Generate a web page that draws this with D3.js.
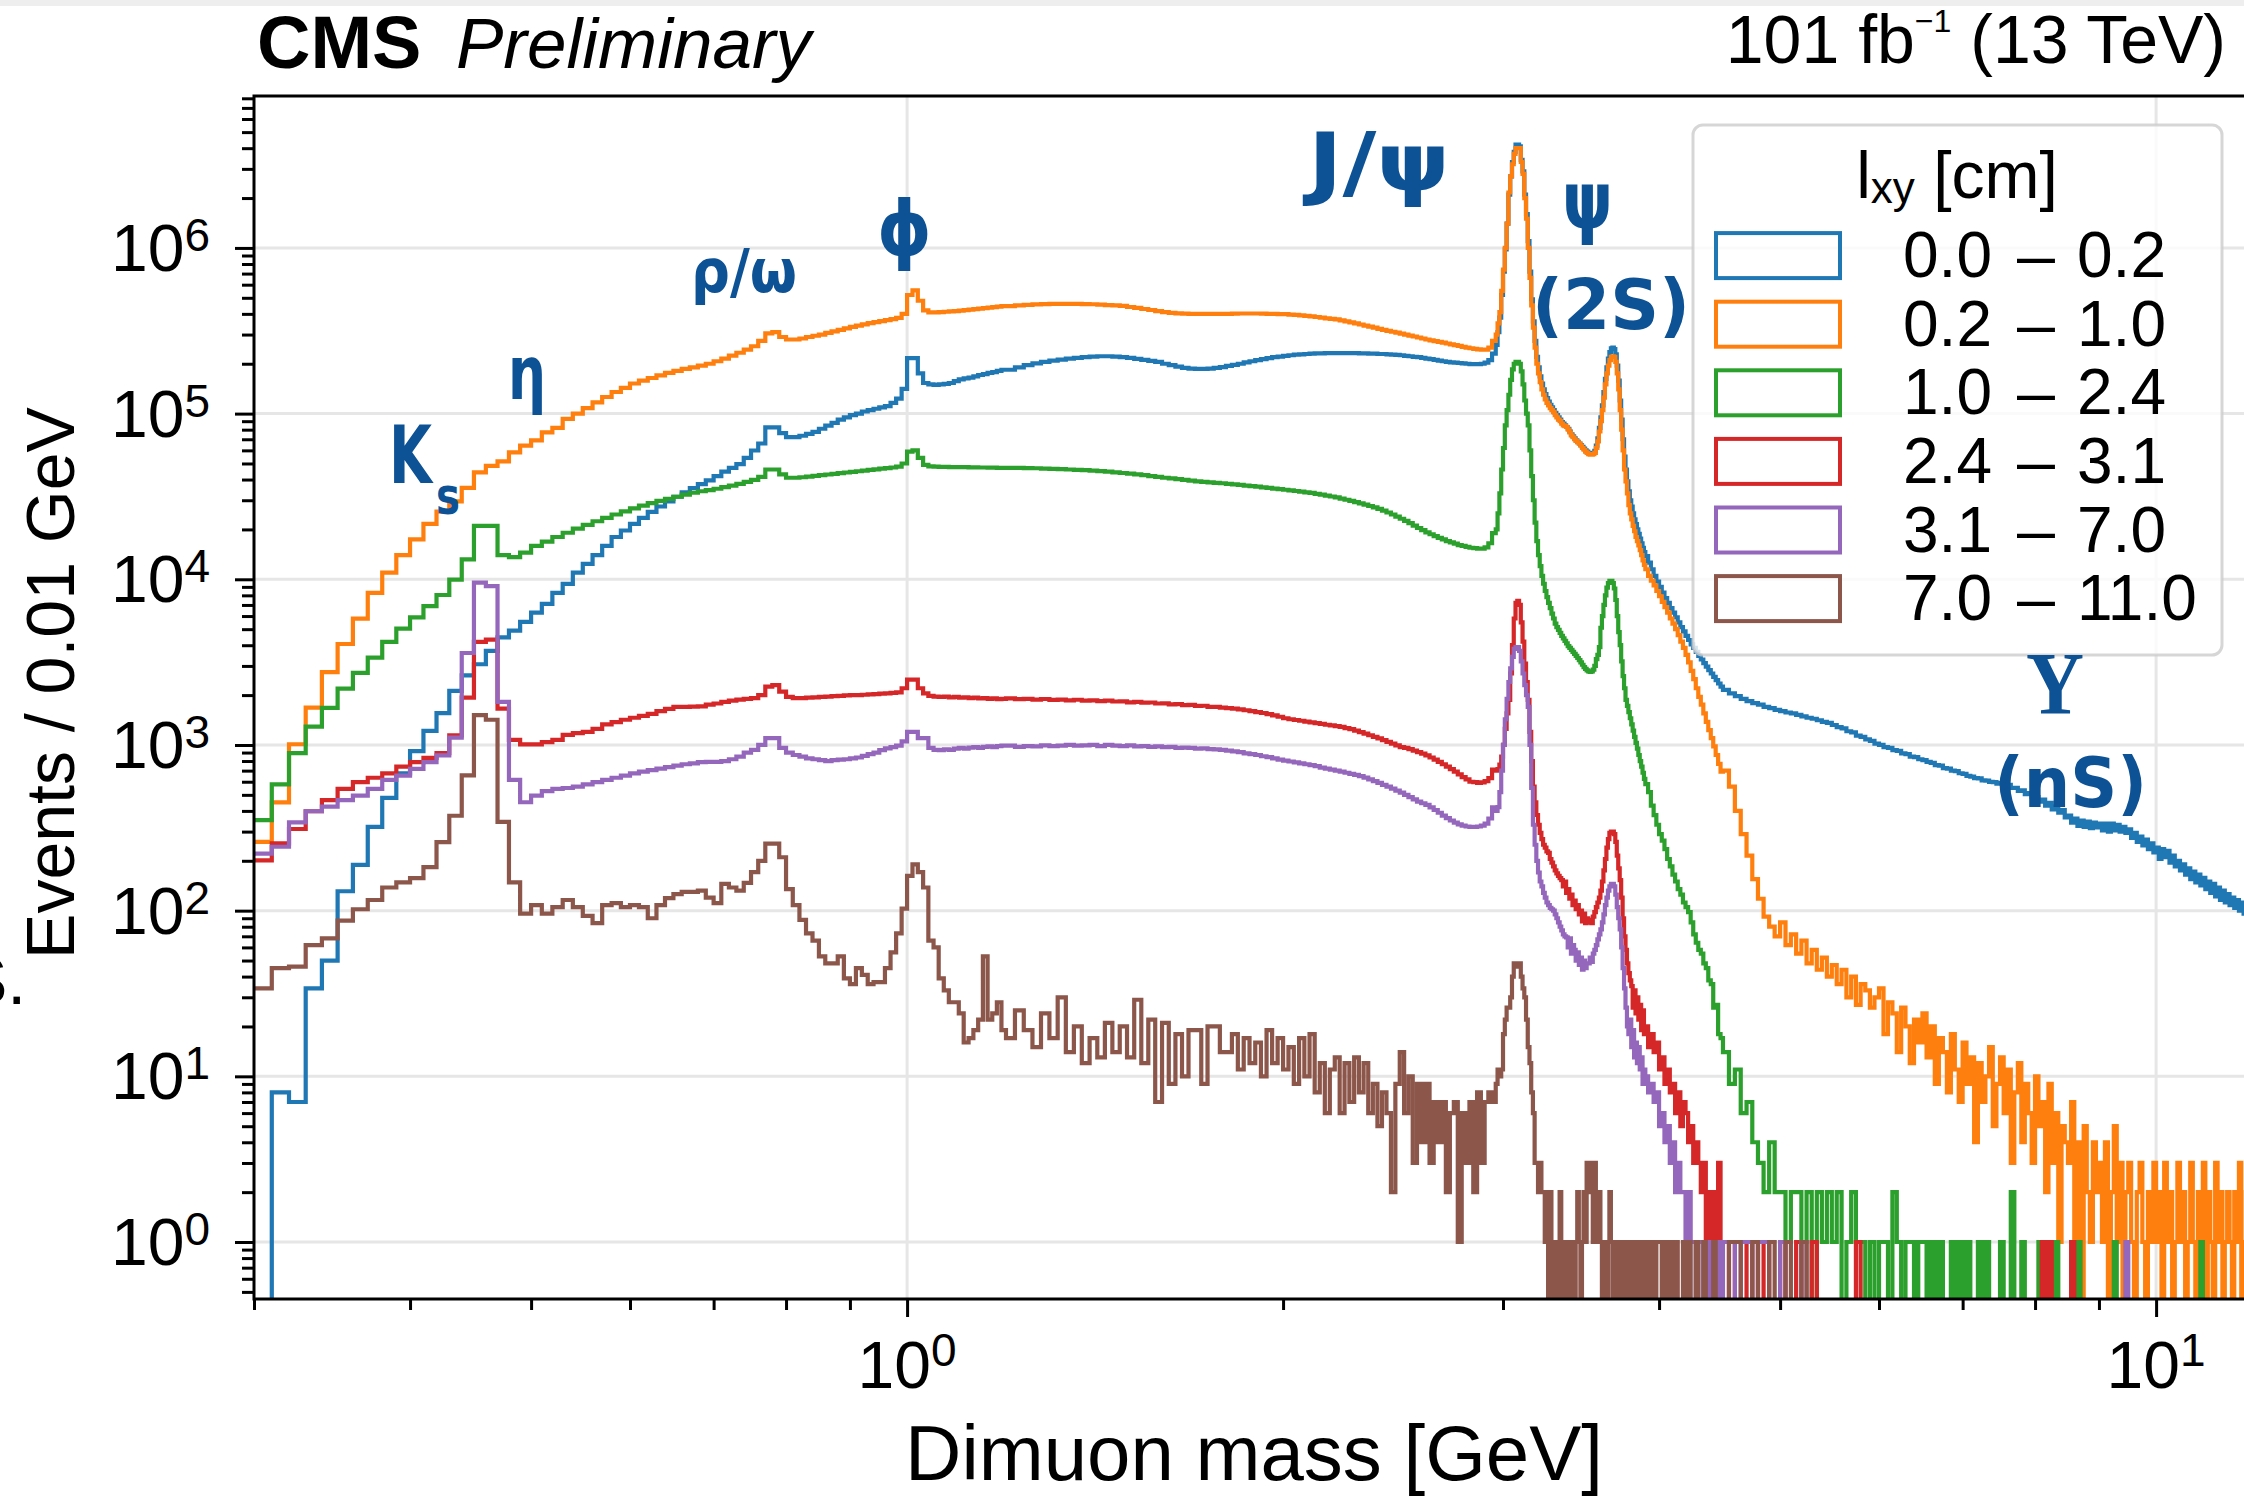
<!DOCTYPE html>
<html>
<head>
<meta charset="utf-8">
<title>CMS Preliminary - Dimuon mass spectrum</title>
<script src="https://cdn.jsdelivr.net/npm/d3@7/dist/d3.min.js"></script>
<style>
  html, body { margin: 0; padding: 0; background: #ffffff; }
  svg { display: block; }
</style>
</head>
<body>
<svg id="chart" width="2244" height="1496" xmlns="http://www.w3.org/2000/svg"></svg>
<script>
// ===================== DATA =====================
// Histogram binning (GeV): consecutive bins of equal width per segment
const binSegments = [
  { start: 0.30, step: 0.01 },
  { start: 1.20, step: 0.02 },
  { start: 2.96, step: 0.01 },
  { start: 3.90, step: 0.02 },
  { start: 4.50, step: 0.05 }
];
const massRange = [0.30, 12.0];
const countRange = [0.453, 8.26e6];
const xMajorTicks = [1, 10];
const xTickExponents = ["0", "1"];
const yMajorTicks = [1, 10, 100, 1000, 10000, 100000, 1000000];
const yTickExponents = ["0", "1", "2", "3", "4", "5", "6"];
const seriesRangeLow = ["0.0", "0.2", "1.0", "2.4", "3.1", "7.0"];
const seriesRangeHigh = ["0.2", "1.0", "2.4", "3.1", "7.0", "11.0"];
const seriesColors = ["#1f77b4", "#ff7f0e", "#2ca02c", "#d62728", "#9467bd", "#8c564b"];

// Events / 0.01 GeV, one array per binning segment
const lxy_00_02 = [
 [0, 8, 7, 34, 50, 131, 189, 320, 479, 674,
  919, 1215, 1557, 2120, 2630, 3070, 3700, 4460, 4900, 5540,
  6300, 7100, 8280, 9380, 10960, 12400, 14000, 15900, 18000, 19700,
  21600, 23500, 25500, 27500, 29500, 31500, 33500, 35500, 37500, 39500,
  42000, 44600, 47000, 49600, 54000, 59900, 66000, 82600, 82600, 76200,
  72100, 72100, 73500, 75500, 77500, 81000, 84700, 88000, 91900, 95000,
  98000, 100000, 103000, 105000, 107000, 109000, 111000, 116000, 123000, 141000,
  216000, 216000, 175000, 153000, 150000, 149000, 150000, 151000, 153000, 157000,
  161000, 163000, 165000, 168000, 171000, 173000, 176000, 178000, 181000, 184000],
 [184000, 190000, 196000, 201000, 205000, 209000, 212000, 215000, 217000, 219000,
  221000, 222000, 222000, 221000, 219000, 217000, 214000, 211000, 208000, 205000,
  200000, 196000, 192000, 189000, 187000, 186000, 186000, 187000, 189000, 191000,
  194000, 197000, 200000, 204000, 207000, 210000, 213000, 216000, 219000, 221000,
  223000, 225000, 227000, 228000, 229000, 230000, 231000, 231000, 232000, 232000,
  232000, 232000, 232000, 232000, 232000, 231000, 231000, 230000, 230000, 229000,
  229000, 228000, 227000, 226000, 225000, 223000, 222000, 220000, 219000, 217000,
  215000, 213000, 211000, 209000, 207000, 205000, 204000, 203000, 202000, 201000,
  200000, 199000, 199000, 199000, 200000, 203000, 210000, 230000],
 [260000, 310000, 380000, 520000, 720000, 980000, 1400000, 2100000, 2700000, 3300000,
  3800000, 4200000, 4200000, 4100000, 3400000, 2900000, 2100000, 1600000, 1100000, 720000,
  490000, 360000, 275000, 220000, 190000, 168000, 152000, 140000, 131000, 124000,
  118000, 113000, 109000, 105000, 101000, 98000, 95000, 92000, 89000, 87000,
  85000, 83000, 81000, 78000, 75000, 73000, 71000, 69000, 67500, 66000,
  64500, 63000, 61500, 60000, 59000, 58000, 57500, 57500, 58000, 59500,
  64000, 71000, 82000, 95000, 112000, 135000, 162000, 190000, 215000, 235000,
  248000, 250000, 245000, 228000, 195000, 158000, 120000, 92000, 70000, 55000,
  46000, 39000, 34000, 30000, 27500, 25000, 23000, 21500, 20000, 18800,
  17600, 16500, 15500, 14600],
 [13800, 12600, 11500, 10500, 9700, 9000, 8300, 7700, 7200, 6700,
  6300, 5900, 5500, 5150, 4850, 4550, 4300, 4050, 3850, 3650,
  3450, 3280, 3120, 2970, 2830, 2700, 2580, 2460, 2350, 2250],
 [2150, 2050, 1970, 1900, 1840, 1790, 1750, 1700, 1670, 1630,
  1600, 1570, 1550, 1520, 1490, 1460, 1440, 1410, 1380, 1360,
  1320, 1280, 1260, 1210, 1190, 1140, 1120, 1080, 1060, 1020,
  1000, 970, 960, 930, 920, 890, 880, 850, 845, 820,
  810, 790, 780, 755, 750, 725, 720, 700, 695, 675,
  670, 650, 645, 630, 628, 612, 610, 598, 596, 585,
  590, 570, 575, 550, 552, 528, 532, 505, 512, 485,
  485, 455, 468, 430, 448, 408, 425, 390, 405, 365,
  375, 340, 360, 325, 350, 320, 345, 315, 340, 318,
  335, 305, 335, 300, 335, 305, 330, 300, 320, 295,
  310, 275, 295, 260, 280, 248, 268, 235, 255, 225,
  240, 205, 235, 210, 230, 195, 215, 185, 200, 175,
  190, 165, 180, 155, 172, 148, 165, 142, 158, 135,
  150, 128, 145, 122, 138, 116, 132, 112, 126, 108,
  120, 104, 116, 100, 112, 96, 108, 92, 104, 90]
];

const lxy_02_10 = [
 [260, 450, 1010, 1680, 2750, 4070, 5790, 8280, 10960, 14000,
  17400, 21600, 25600, 29500, 35600, 44200, 48400, 51500, 58300, 64000,
  69000, 77100, 82000, 92900, 100000, 108000, 117000, 126000, 135000, 143000,
  152000, 158000, 164000, 170000, 176000, 181000, 186000, 190000, 195000, 200000,
  207000, 215000, 224000, 233000, 243000, 255000, 275000, 305000, 310000, 290000,
  280000, 280000, 284000, 290000, 295000, 300000, 307000, 314000, 320000, 327000,
  334000, 340000, 346000, 352000, 357000, 362000, 367000, 372000, 378000, 400000,
  520000, 555000, 480000, 420000, 408000, 408000, 410000, 412000, 414000, 416000,
  418000, 421000, 424000, 427000, 430000, 433000, 436000, 439000, 442000, 445000],
 [446000, 450000, 453000, 456000, 458000, 460000, 460000, 460000, 459000, 458000,
  457000, 455000, 452000, 450000, 447000, 440000, 435000, 428000, 422000, 416000,
  410000, 406000, 403000, 401000, 400000, 400000, 400000, 400000, 400000, 400000,
  400000, 401000, 402000, 402000, 402000, 402000, 401000, 400000, 400000, 399000,
  398000, 396000, 394000, 392000, 389000, 386000, 383000, 380000, 376000, 373000,
  370000, 365000, 360000, 355000, 350000, 345000, 340000, 335000, 330000, 325000,
  320000, 316000, 312000, 308000, 304000, 300000, 296000, 292000, 288000, 284000,
  280000, 277000, 274000, 271000, 268000, 265000, 262000, 259000, 256000, 253000,
  250000, 248000, 246000, 244000, 243000, 243000, 250000, 275000],
 [300000, 350000, 410000, 550000, 740000, 1000000, 1400000, 2160000, 2700000, 3200000,
  3700000, 4000000, 4000000, 4000000, 3300000, 2800000, 2000000, 1500000, 1000000, 660000,
  450000, 330000, 250000, 200000, 175000, 155000, 140000, 130000, 122000, 116000,
  112000, 108000, 105000, 102000, 98000, 95000, 92000, 90000, 87000, 85000,
  84000, 83000, 80000, 77000, 74000, 72000, 70000, 68500, 67000, 66000,
  64000, 62000, 60500, 59000, 58000, 57000, 56500, 56500, 57000, 58000,
  62000, 68000, 78000, 90000, 105000, 125000, 150000, 175000, 195000, 210000,
  220000, 222000, 220000, 205000, 175000, 140000, 105000, 80000, 60000, 46000,
  39000, 33000, 28000, 25000, 23000, 21000, 19500, 18000, 17000, 16000,
  15000, 14000, 13000, 12200],
 [11500, 10500, 9800, 9200, 8500, 7900, 7300, 6800, 6300, 5800,
  5400, 5000, 4600, 4200, 3850, 3500, 3150, 2800, 2500, 2200,
  1950, 1750, 1550, 1380, 1230, 1100, 980, 870, 770, 690],
 [700, 560, 400, 290, 215, 155, 118, 92, 80, 70,
  85, 62, 72, 55, 66, 48, 58, 44, 52, 40,
  47, 36, 44, 30, 40, 27, 36, 33, 26, 30,
  34, 18, 28, 24, 14, 26, 20, 12, 22, 16,
  24, 13, 20, 9, 17, 14, 8, 18, 11, 7,
  16, 9, 13, 4, 12, 7, 10, 15, 5, 9,
  13, 6, 11, 3, 8, 12, 4, 9, 6, 3,
  10, 5, 7, 2, 9, 3, 6, 1, 5, 4,
  3, 7, 1, 4, 0, 5, 2, 1, 4, 2,
  3, 1, 4, 0, 2, 5, 1, 3, 0, 2,
  3, 1, 0, 2, 3, 1, 0, 2, 1, 3,
  1, 2, 0, 3, 1, 2, 0, 1, 3, 1,
  2, 0, 1, 3, 1, 0, 2, 1, 3, 0,
  2, 1, 0, 3, 1, 2, 0, 1, 2, 1,
  0, 2, 1, 3, 0, 1, 2, 1, 0, 2]
];

const lxy_10_24 = [
 [352, 578, 892, 1290, 1675, 2190, 2720, 3370, 4190, 5040,
  5890, 6880, 8040, 9960, 13200, 21000, 21000, 14000, 13600, 14500,
  15900, 16900, 18000, 19100, 20200, 21300, 22400, 23500, 24600, 25700,
  26800, 27800, 28800, 29700, 30600, 31500, 32400, 33300, 34000, 34500,
  35200, 36000, 36800, 37700, 38700, 39800, 41500, 46000, 46000, 43000,
  41000, 41000, 41300, 41700, 42100, 42500, 42900, 43300, 43700, 44100,
  44500, 44900, 45300, 45700, 46100, 46500, 46900, 47300, 47800, 50000,
  59000, 60000, 54000, 49000, 48000, 47800, 47700, 47700, 47600, 47600,
  47500, 47500, 47400, 47400, 47300, 47300, 47200, 47200, 47100, 47100],
 [47100, 47000, 46900, 46800, 46600, 46400, 46200, 46000, 45800, 45600,
  45300, 45000, 44600, 44200, 43800, 43400, 43000, 42500, 42000, 41500,
  41000, 40600, 40200, 39800, 39400, 39000, 38700, 38500, 38200, 38000,
  37700, 37400, 37100, 36800, 36500, 36200, 35900, 35600, 35300, 35000,
  34700, 34400, 34100, 33800, 33500, 33200, 32800, 32400, 32000, 31600,
  31200, 30700, 30200, 29700, 29200, 28700, 28200, 27700, 27200, 26600,
  26000, 25300, 24600, 23900, 23200, 22500, 21800, 21100, 20400, 19800,
  19200, 18700, 18200, 17800, 17400, 17000, 16700, 16400, 16100, 15900,
  15700, 15500, 15400, 15300, 15300, 15600, 16500, 19000],
 [20000, 25000, 33000, 46000, 62000, 85000, 105000, 130000, 160000, 185000,
  200000, 205000, 205000, 200000, 180000, 150000, 120000, 100000, 85000, 60000,
  42000, 30000, 22000, 17000, 14000, 12000, 10500, 9400, 8500, 7800,
  7200, 6700, 6200, 5800, 5400, 5150, 4950, 4750, 4550, 4400,
  4250, 4100, 3950, 3850, 3750, 3650, 3550, 3450, 3350, 3250,
  3150, 3050, 2950, 2880, 2820, 2780, 2760, 2780, 2850, 3000,
  3300, 3500, 3900, 5100, 6000, 7000, 8000, 8900, 9500, 9800,
  9800, 9500, 8800, 7500, 6000, 4800, 4000, 3200, 2600, 2200,
  1870, 1720, 1580, 1450, 1330, 1220, 1120, 1030, 950, 870,
  800, 740, 680, 625],
 [580, 520, 430, 377, 330, 290, 265, 235, 205, 185,
  165, 150, 135, 125, 112, 105, 98, 85, 72, 64,
  58, 55, 48, 45, 38, 36, 26, 27, 18, 17],
 [14, 9, 11, 6, 7, 4, 3, 2, 4, 2,
  2, 1, 2, 2, 1, 2, 0, 2, 1, 2,
  1, 2, 0, 1, 2, 1, 1, 0, 1, 0,
  1, 1, 0, 2, 1, 0, 1, 1, 0, 1,
  1, 0, 1, 0, 1, 0, 0, 1, 0, 1,
  0, 1, 0, 0, 1, 0, 1, 0, 0, 0,
  1, 0, 0, 2, 0, 0, 1, 0, 0, 0,
  0, 1, 0, 0, 0, 0, 1, 0, 0, 0,
  0, 0, 0, 1, 0, 0, 0, 0, 0, 0,
  0, 0, 0, 0, 0, 1, 0, 0, 0, 0,
  0, 0, 0, 0, 0, 0, 0, 0, 0, 0,
  0, 0, 0, 0, 0, 0, 0, 0, 0, 0,
  0, 0, 0, 0, 0, 0, 0, 1, 0, 0,
  0, 0, 0, 0, 0, 0, 0, 0, 0, 0,
  0, 0, 0, 0, 0, 0, 0, 0, 0, 0]
];

const lxy_24_31 = [
 [201, 255, 311, 398, 465, 543, 596, 634, 674, 740,
  787, 837, 892, 1142, 1930, 4190, 4320, 1656, 1073, 1009,
  1009, 1040, 1073, 1150, 1178, 1200, 1250, 1330, 1375, 1420,
  1460, 1500, 1540, 1600, 1650, 1700, 1700, 1706, 1710, 1750,
  1780, 1820, 1850, 1880, 1900, 1920, 2000, 2250, 2300, 2100,
  1950, 1920, 1920, 1930, 1940, 1950, 1960, 1970, 1980, 1990,
  2000, 2000, 2010, 2020, 2030, 2040, 2050, 2060, 2080, 2200,
  2480, 2480, 2200, 2050, 1980, 1960, 1950, 1960, 1940, 1950,
  1930, 1940, 1920, 1930, 1910, 1920, 1900, 1910, 1890, 1900],
 [1910, 1890, 1900, 1880, 1895, 1870, 1880, 1860, 1875, 1850,
  1860, 1840, 1850, 1830, 1835, 1810, 1820, 1800, 1805, 1780,
  1785, 1760, 1765, 1740, 1745, 1720, 1725, 1700, 1700, 1680,
  1670, 1655, 1640, 1620, 1600, 1580, 1560, 1535, 1510, 1480,
  1450, 1430, 1415, 1400, 1385, 1370, 1355, 1340, 1325, 1312,
  1300, 1285, 1265, 1245, 1220, 1195, 1170, 1145, 1120, 1095,
  1070, 1045, 1020, 995, 970, 960, 945, 925, 905, 887,
  865, 840, 815, 790, 765, 740, 715, 690, 665, 640,
  620, 600, 596, 590, 595, 605, 630, 710],
 [700, 715, 760, 850, 1000, 1250, 1550, 1870, 2700, 4000,
  5800, 7200, 7400, 7000, 5500, 4200, 3100, 2400, 1870, 1200,
  800, 560, 450, 378, 330, 295, 270, 250, 240, 228,
  223, 205, 195, 185, 175, 168, 162, 157, 153, 140,
  150, 128, 135, 118, 125, 108, 115, 102, 108, 95,
  100, 86, 96, 84, 90, 85, 88, 84, 92, 98,
  105, 112, 120, 132, 150, 175, 205, 240, 270, 295,
  300, 300, 290, 260, 215, 180, 153, 120, 90, 70,
  58, 48, 42, 38, 35, 26, 33, 24, 30, 22,
  27, 19, 25, 18],
 [20, 15, 18, 14, 16, 11, 13, 9, 11, 8,
  9, 6, 8, 5, 7, 6, 4, 5, 3, 4,
  3, 2, 3, 1, 2, 1, 2, 1, 3, 1],
 [1, 0, 1, 1, 0, 1, 0, 1, 0, 0,
  1, 0, 0, 1, 0, 0, 1, 0, 0, 0,
  0, 0, 0, 0, 0, 1, 0, 0, 0, 0,
  0, 0, 0, 0, 0, 0, 0, 0, 0, 0,
  0, 0, 0, 0, 0, 0, 0, 0, 0, 0,
  0, 0, 0, 0, 0, 0, 0, 0, 0, 0,
  0, 0, 0, 0, 0, 0, 0, 0, 0, 0,
  0, 0, 1, 0, 1, 0, 0, 0, 0, 0,
  0, 1, 0, 0, 0, 0, 0, 0, 0, 0,
  0, 0, 0, 0, 0, 0, 0, 0, 0, 0,
  0, 0, 0, 0, 0, 0, 0, 0, 0, 0,
  0, 0, 0, 0, 0, 0, 0, 0, 0, 0,
  0, 0, 0, 0, 0, 0, 0, 0, 0, 0,
  0, 0, 0, 0, 0, 0, 0, 0, 0, 0,
  0, 0, 0, 0, 0, 0, 0, 0, 0, 0]
];

const lxy_31_70 = [
 [221, 243, 341, 398, 424, 465, 494, 543, 615, 653,
  718, 787, 865, 1107, 3590, 9550, 9100, 1820, 615, 451,
  494, 526, 543, 550, 560, 578, 596, 615, 634, 653,
  674, 690, 705, 720, 735, 750, 765, 775, 787, 790,
  790, 800, 820, 850, 900, 935, 1000, 1100, 1100, 960,
  900, 870, 850, 830, 820, 810, 800, 810, 815, 820,
  830, 840, 860, 880, 900, 930, 955, 970, 990, 1050,
  1200, 1200, 1100, 1100, 960, 935, 930, 940, 935, 950,
  960, 950, 965, 970, 960, 975, 980, 970, 985, 990],
 [990, 975, 985, 980, 995, 985, 990, 1000, 990, 995,
  1000, 985, 1000, 990, 985, 995, 980, 985, 975, 980,
  970, 975, 960, 965, 960, 950, 955, 945, 940, 935,
  925, 915, 905, 890, 880, 870, 855, 845, 830, 815,
  805, 795, 785, 775, 765, 755, 745, 730, 720, 710,
  700, 690, 680, 670, 660, 648, 635, 620, 605, 590,
  575, 560, 545, 530, 515, 500, 485, 470, 455, 445,
  435, 420, 405, 390, 375, 362, 350, 340, 332, 326,
  322, 320, 320, 322, 326, 335, 360, 420],
 [400, 422, 520, 700, 1000, 1430, 1900, 2400, 2900, 3400,
  3800, 3900, 3900, 3700, 3200, 2700, 2300, 2000, 1700, 1000,
  550, 330, 250, 200, 170, 150, 140, 128, 120, 112,
  108, 104, 102, 100, 95, 90, 85, 80, 76, 72,
  70, 69, 60, 68, 55, 62, 58, 50, 56, 47,
  52, 44, 50, 45, 48, 48, 52, 49, 55, 58,
  62, 67, 72, 77, 85, 95, 108, 120, 132, 140,
  145, 145, 140, 125, 105, 90, 77, 60, 45, 34,
  26, 20, 18, 22, 15, 19, 13, 16, 12, 15,
  11, 13, 9, 11],
 [10, 8, 9, 7, 8, 5, 6, 4, 5, 3,
  4, 2, 3, 2, 2, 1, 2, 1, 1, 0,
  1, 1, 0, 1, 0, 1, 1, 0, 1, 0],
 [1, 1, 0, 1, 1, 0, 1, 1, 0, 0,
  1, 0, 0, 0, 1, 0, 0, 0, 0, 0,
  0, 0, 0, 0, 0, 0, 0, 0, 0, 0,
  0, 0, 0, 0, 0, 0, 0, 0, 0, 0,
  0, 0, 0, 0, 0, 0, 0, 0, 0, 0,
  0, 0, 0, 0, 0, 0, 0, 0, 0, 0,
  0, 0, 0, 0, 0, 0, 0, 0, 0, 0,
  0, 0, 0, 0, 0, 0, 0, 0, 0, 0,
  0, 0, 0, 0, 0, 0, 0, 0, 0, 0,
  0, 0, 0, 0, 0, 0, 0, 0, 0, 1,
  0, 0, 0, 0, 0, 0, 0, 0, 0, 0,
  0, 0, 0, 0, 0, 0, 0, 0, 0, 0,
  0, 0, 0, 0, 0, 0, 0, 0, 0, 0,
  0, 0, 0, 0, 0, 0, 0, 0, 0, 0,
  0, 0, 0, 0, 0, 0, 0, 0, 0, 0]
];

const lxy_70_110 = [
 [34, 45, 46, 62, 68, 87, 102, 116, 138, 148,
  157, 183, 259, 374, 655, 1515, 1420, 343, 148, 96,
  108, 96, 105, 116, 105, 93, 84, 108, 111, 105,
  108, 105, 90, 108, 119, 126, 130, 130, 132, 120,
  111, 145, 138, 132, 147, 171, 200, 254, 254, 210,
  135, 108, 88, 73, 66, 53, 48, 48, 53, 39,
  36, 45, 41, 36, 37, 37, 45, 56, 73, 103,
  162, 190, 171, 138, 66, 60, 39, 33, 28, 28,
  24, 16, 17, 19, 22, 53, 22, 24, 28, 19],
 [17, 25, 19, 15, 24, 17, 30, 14, 20, 12,
  17, 13, 21, 14, 20, 13, 29, 12, 22, 7,
  21, 9, 18, 10, 19, 19, 9, 20, 20, 14,
  14, 18, 11, 17, 12, 16, 10, 19, 12, 17,
  11, 15, 9, 17, 10, 18, 8, 12, 6, 11,
  13, 6, 12, 7, 13, 8, 12, 6, 9, 5,
  8, 6, 2, 9, 14, 6, 10, 3, 9, 4,
  9, 3, 7, 4, 7, 2, 6, 7, 1, 6,
  3, 7, 2, 8, 3, 7, 8, 7],
 [9, 11, 10, 11, 18, 22, 26, 26, 30, 40,
  48, 48, 46, 48, 40, 34, 30, 22, 15, 12,
  8, 6, 3, 3, 2, 3, 2, 2, 1, 2,
  0, 2, 1, 0, 1, 1, 0, 2, 1, 0,
  1, 0, 1, 1, 0, 1, 0, 1, 2, 1,
  0, 1, 2, 1, 3, 2, 3, 2, 1, 3,
  2, 1, 2, 1, 0, 1, 1, 0, 1, 2,
  1, 0, 1, 1, 0, 1, 0, 1, 0, 1,
  1, 0, 1, 0, 0, 1, 0, 1, 0, 0,
  1, 0, 0, 1],
 [1, 0, 1, 0, 1, 1, 0, 1, 0, 1,
  0, 1, 0, 0, 1, 0, 1, 0, 0, 1,
  0, 0, 1, 0, 0, 0, 1, 0, 0, 0],
 [0, 1, 1, 0, 0, 1, 0, 0, 1, 0,
  0, 1, 0, 0, 1, 0, 0, 0, 0, 0,
  0, 0, 0, 0, 0, 0, 0, 0, 0, 0,
  0, 0, 0, 0, 0, 0, 0, 0, 0, 0,
  0, 0, 0, 0, 0, 0, 0, 0, 0, 0,
  0, 0, 0, 0, 0, 0, 0, 0, 0, 0,
  0, 0, 0, 0, 0, 0, 0, 0, 0, 0,
  0, 0, 0, 0, 0, 0, 0, 0, 0, 0,
  0, 0, 0, 0, 0, 0, 0, 0, 0, 0,
  0, 0, 0, 0, 0, 0, 0, 0, 0, 0,
  0, 0, 0, 0, 0, 0, 0, 0, 0, 0,
  0, 0, 0, 0, 0, 0, 0, 0, 0, 0,
  0, 0, 0, 0, 0, 0, 0, 0, 0, 0,
  0, 0, 0, 0, 0, 0, 0, 0, 0, 0,
  0, 0, 0, 0, 0, 0, 0, 0, 0, 0]
];

const seriesData = [lxy_00_02, lxy_02_10, lxy_10_24, lxy_24_31, lxy_31_70, lxy_70_110];

// ===================== RENDER =====================
const svg = d3.select("#chart");
const FONT = "'Liberation Sans', Arial, Helvetica, sans-serif";
const ANN_FONT = "'DejaVu Sans', 'Noto Sans', sans-serif";
const ANN_COLOR = "#0e5296";

const plot = { left: 254, right: 2255, top: 96, bottom: 1299 };

const x = d3.scaleLog().domain(massRange).range([plot.left, plot.right]);
const y = d3.scaleLog().domain(countRange).range([plot.bottom, plot.top]);

svg.append("rect").attr("x", 0).attr("y", 0).attr("width", 2244).attr("height", 1496).attr("fill", "#ffffff");
svg.append("rect").attr("x", 0).attr("y", 0).attr("width", 2244).attr("height", 6).attr("fill", "#eeeeee");

// grid
const grid = svg.append("g");
yMajorTicks.forEach(v => {
  grid.append("line").attr("x1", plot.left).attr("x2", plot.right)
    .attr("y1", y(v)).attr("y2", y(v))
    .attr("stroke", "#e6e6e6").attr("stroke-width", 3);
});
xMajorTicks.forEach(v => {
  grid.append("line").attr("y1", plot.top).attr("y2", plot.bottom)
    .attr("x1", x(v)).attr("x2", x(v))
    .attr("stroke", "#e6e6e6").attr("stroke-width", 3);
});

// clip
svg.append("defs").append("clipPath").attr("id", "plotclip")
  .append("rect").attr("x", plot.left).attr("y", plot.top)
  .attr("width", plot.right - plot.left).attr("height", plot.bottom - plot.top);

function buildPoints(segArrays) {
  const pts = [];
  segArrays.forEach((vals, k) => {
    const seg = binSegments[k];
    const limit = k < binSegments.length - 1 ? binSegments[k + 1].start - 1e-9 : Infinity;
    vals.forEach((v, j) => {
      const m = +(seg.start + j * seg.step).toFixed(5);
      if (m < limit) pts.push([m, v]);
    });
  });
  const lastSeg = binSegments[binSegments.length - 1];
  const lastVals = segArrays[segArrays.length - 1];
  pts.push([+(lastSeg.start + lastVals.length * lastSeg.step).toFixed(5), lastVals[lastVals.length - 1]]);
  return pts;
}
const yPos = v => (v > 0 ? y(v) : plot.bottom + 40);
const line = d3.line().x(d => x(d[0])).y(d => yPos(d[1])).curve(d3.curveStepAfter);

const gSeries = svg.append("g").attr("clip-path", "url(#plotclip)");
seriesData.forEach((s, i) => {
  gSeries.append("path")
    .attr("d", line(buildPoints(s)))
    .attr("fill", "none")
    .attr("stroke", seriesColors[i])
    .attr("stroke-width", 4.2)
    .attr("stroke-linejoin", "miter");
});

// axes (ticks)
const yMinor = [];
for (let e = -1; e <= 6; e++) for (let k = 2; k <= 9; k++) {
  const v = k * Math.pow(10, e);
  if (v >= countRange[0] && v <= countRange[1]) yMinor.push(v);
}
const xMinor = [];
for (let e = -1; e <= 1; e++) for (let k = 2; k <= 9; k++) {
  const v = k * Math.pow(10, e);
  if (v >= massRange[0] - 1e-9 && v <= massRange[1]) xMinor.push(v);
}
function styleAxis(g) {
  g.select(".domain").remove();
  g.selectAll(".tick line").attr("stroke", "#000").attr("stroke-width", 3);
}
svg.append("g").attr("transform", `translate(${plot.left},0)`)
  .call(d3.axisLeft(y).tickValues(yMajorTicks).tickSize(19).tickSizeOuter(0).tickFormat(() => ""))
  .call(styleAxis);
svg.append("g").attr("transform", `translate(${plot.left},0)`)
  .call(d3.axisLeft(y).tickValues(yMinor).tickSize(12).tickSizeOuter(0).tickFormat(() => ""))
  .call(styleAxis);
svg.append("g").attr("transform", `translate(0,${plot.bottom})`)
  .call(d3.axisBottom(x).tickValues(xMajorTicks).tickSize(18).tickSizeOuter(0).tickFormat(() => ""))
  .call(styleAxis);
svg.append("g").attr("transform", `translate(0,${plot.bottom})`)
  .call(d3.axisBottom(x).tickValues(xMinor).tickSize(11).tickSizeOuter(0).tickFormat(() => ""))
  .call(styleAxis);

// frame
svg.append("rect").attr("x", plot.left).attr("y", plot.top)
  .attr("width", plot.right - plot.left).attr("height", plot.bottom - plot.top)
  .attr("fill", "none").attr("stroke", "#000").attr("stroke-width", 3);

// tick labels
yMajorTicks.forEach((v, i) => {
  const t = svg.append("text").attr("x", 210).attr("y", y(v) + 23)
    .attr("text-anchor", "end").attr("font-family", FONT).attr("font-size", 66).attr("fill", "#000");
  t.append("tspan").text("10");
  t.append("tspan").attr("dy", -20).attr("font-size", 46).text(yTickExponents[i]);
});
xMajorTicks.forEach((v, i) => {
  const t = svg.append("text").attr("x", x(v)).attr("y", 1388)
    .attr("text-anchor", "middle").attr("font-family", FONT).attr("font-size", 66).attr("fill", "#000");
  t.append("tspan").text("10");
  t.append("tspan").attr("dy", -22).attr("font-size", 46).text(xTickExponents[i]);
});

// axis titles
svg.append("text").attr("x", 1254).attr("y", 1480).attr("text-anchor", "middle")
  .attr("font-family", FONT).attr("font-size", 78).attr("fill", "#000").text("Dimuon mass [GeV]");
svg.append("text").attr("transform", "translate(74,683) rotate(-90)").attr("text-anchor", "middle")
  .attr("font-family", FONT).attr("font-size", 68).attr("fill", "#000").text("Events / 0.01 GeV");
svg.append("text").attr("x", -38).attr("y", 1004)
  .attr("font-family", FONT).attr("font-size", 68).attr("fill", "#000").text("S.");

// header
svg.append("text").attr("x", 257).attr("y", 68).attr("font-family", FONT)
  .attr("font-size", 74).attr("font-weight", "bold").attr("fill", "#000").text("CMS");
svg.append("text").attr("x", 456).attr("y", 68).attr("font-family", FONT)
  .attr("font-size", 71).attr("font-style", "italic").attr("fill", "#000").text("Preliminary");
const lumi = svg.append("text").attr("x", 2226).attr("y", 63).attr("text-anchor", "end")
  .attr("font-family", FONT).attr("font-size", 68).attr("fill", "#000");
lumi.append("tspan").text("101 fb");
lumi.append("tspan").attr("dy", -31).attr("font-size", 32).text("\u22121");
lumi.append("tspan").attr("dy", 31).text(" (13 TeV)");

// legend
const lg = svg.append("g");
lg.append("rect").attr("x", 1693).attr("y", 125).attr("width", 529).attr("height", 530)
  .attr("rx", 10).attr("ry", 10)
  .attr("fill", "#ffffff").attr("fill-opacity", 0.8)
  .attr("stroke", "#cccccc").attr("stroke-opacity", 0.8).attr("stroke-width", 3);
const lt = lg.append("text").attr("x", 1957).attr("y", 198).attr("text-anchor", "middle")
  .attr("font-family", FONT).attr("font-size", 66).attr("fill", "#000");
lt.append("tspan").text("l");
lt.append("tspan").attr("dy", 5).attr("font-size", 44).text("xy");
lt.append("tspan").attr("dy", -5).text(" [cm]");
seriesColors.forEach((c, i) => {
  const cy = 255.6 + 68.6 * i;
  const base = cy + 21.5;
  lg.append("rect").attr("x", 1716).attr("y", cy - 22.5).attr("width", 124).attr("height", 45)
    .attr("fill", "none").attr("stroke", c).attr("stroke-width", 4);
  lg.append("text").attr("x", 1903).attr("y", base)
    .attr("font-family", FONT).attr("font-size", 64).attr("fill", "#000").text(seriesRangeLow[i]);
  lg.append("text").attr("x", 2017).attr("y", base)
    .attr("font-family", FONT).attr("font-size", 64).attr("fill", "#000")
    .attr("textLength", 38).attr("lengthAdjust", "spacingAndGlyphs").text("\u2013");
  lg.append("text").attr("x", 2077).attr("y", base)
    .attr("font-family", FONT).attr("font-size", 64).attr("fill", "#000").text(seriesRangeHigh[i]);
});

// resonance annotations
function ann(txt, xx, yy, size, len, opts = {}) {
  const t = svg.append("text").attr("x", xx).attr("y", yy)
    .attr("font-family", opts.family || ANN_FONT).attr("font-size", size)
    .attr("font-weight", opts.weight || "bold").attr("fill", ANN_COLOR).text(txt);
  if (len) t.attr("textLength", len).attr("lengthAdjust", "spacingAndGlyphs");
  return t;
}
ann("K", 389, 483, 80, 43);
ann("s", 436, 514, 52, 24);
ann("\u03B7", 508, 399, 74, 38);
ann("\u03C1/\u03C9", 691, 292, 60, 106);
ann("\u03D5", 877, 255, 76, 55);
ann("J/\u03C8", 1308, 190, 80, 142);
ann("\u03C8", 1562, 228, 80, 51);
ann("(2S)", 1532, 329, 70, 158);
ann("\u03A5", 2026, 713, 88, 58, { family: "'Liberation Serif', 'DejaVu Serif', serif" });
ann("(nS)", 1994, 807, 70, 153);
</script>
</body>
</html>
